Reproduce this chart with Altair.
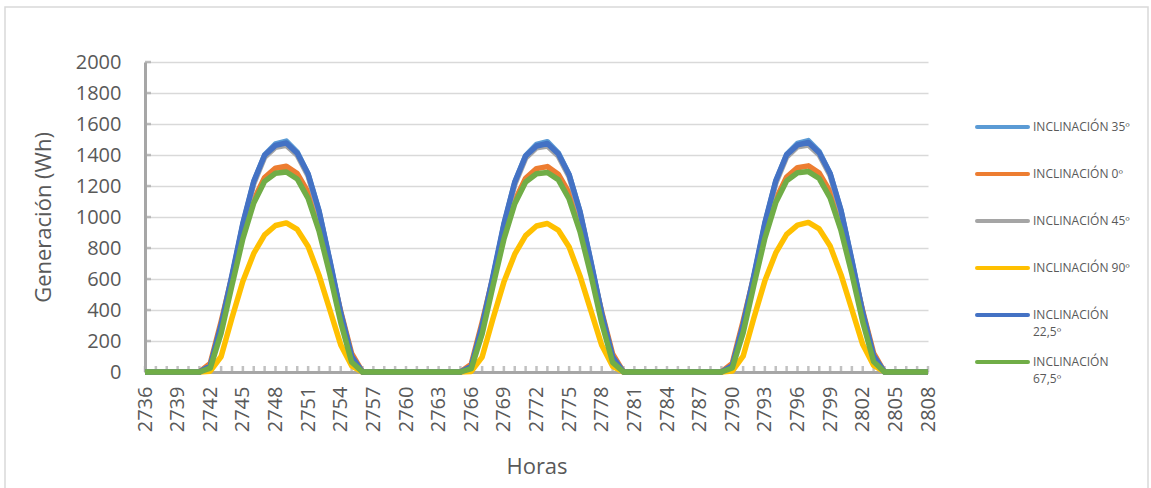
import altair as alt
import pandas as pd

# Hourly axis (category labels every 3 hours)
horas = list(range(2736, 2809))
ticks_x = [2736, 2739, 2742, 2745, 2748, 2751, 2754, 2757, 2760, 2763, 2766, 2769,
           2772, 2775, 2778, 2781, 2784, 2787, 2790, 2793, 2796, 2799, 2802, 2805, 2808]
ticks_y = [0, 200, 400, 600, 800, 1000, 1200, 1400, 1600, 1800, 2000]

series = ["INCLINACIÓN 35º", "INCLINACIÓN 0º", "INCLINACIÓN 45º",
          "INCLINACIÓN 90º", "INCLINACIÓN 22,5º", "INCLINACIÓN 67,5º"]
etiquetas = ["INCLINACIÓN 35º", "INCLINACIÓN 0º", "INCLINACIÓN 45º",
             "INCLINACIÓN 90º", "INCLINACIÓN\n22,5º", "INCLINACIÓN\n67,5º"]
colores = ["#5B9BD5", "#ED7D31", "#A5A5A5", "#FFC000", "#4472C4", "#70AD47"]

# Hourly generation (Wh), hours 2736..2808
inclinacion_35 = [
    0, 0, 0, 0, 0, 0,
    30, 292, 612, 952, 1226, 1400, 1472, 1490, 1418, 1276, 1036, 712, 376, 96,
    0, 0, 0, 0, 0, 0, 0, 0, 0, 0,
    27, 288, 608, 948, 1222, 1396, 1468, 1486, 1414, 1272, 1032, 708, 372, 93,
    0, 0, 0, 0, 0, 0, 0, 0, 0, 0,
    31, 294, 615, 955, 1229, 1403, 1475, 1493, 1421, 1279, 1039, 715, 378, 98,
    0, 0, 0, 0, 0,
]
inclinacion_0 = [
    0, 0, 0, 0, 0, 0,
    55, 325, 615, 880, 1110, 1255, 1315, 1328, 1280, 1160, 955, 685, 390, 120,
    0, 0, 0, 0, 0, 0, 0, 0, 0, 0,
    50, 320, 610, 875, 1105, 1250, 1312, 1325, 1276, 1155, 950, 680, 386, 116,
    0, 0, 0, 0, 0, 0, 0, 0, 0, 0,
    56, 328, 618, 884, 1114, 1258, 1318, 1330, 1283, 1163, 958, 688, 392, 122,
    0, 0, 0, 0, 0,
]
inclinacion_45 = [
    0, 0, 0, 0, 0, 0,
    35, 290, 610, 945, 1215, 1385, 1450, 1462, 1398, 1265, 1028, 705, 368, 92,
    0, 0, 0, 0, 0, 0, 0, 0, 0, 0,
    31, 286, 606, 940, 1210, 1380, 1446, 1458, 1394, 1260, 1024, 700, 364, 88,
    0, 0, 0, 0, 0, 0, 0, 0, 0, 0,
    36, 292, 612, 948, 1218, 1388, 1453, 1465, 1401, 1268, 1031, 708, 370, 94,
    0, 0, 0, 0, 0,
]
inclinacion_90 = [
    0, 0, 0, 0, 0, 0,
    5, 100, 350, 585, 765, 885, 945, 962, 920, 810, 625, 400, 175, 40,
    0, 0, 0, 0, 0, 0, 0, 0, 0, 0,
    4, 96, 345, 580, 760, 880, 942, 958, 916, 806, 620, 396, 172, 37,
    0, 0, 0, 0, 0, 0, 0, 0, 0, 0,
    6, 102, 352, 588, 768, 888, 948, 965, 923, 813, 628, 403, 177, 42,
    0, 0, 0, 0, 0,
]
inclinacion_22_5 = [
    0, 0, 0, 0, 0, 0,
    40, 305, 625, 960, 1230, 1398, 1462, 1478, 1412, 1278, 1040, 718, 382, 102,
    0, 0, 0, 0, 0, 0, 0, 0, 0, 0,
    36, 300, 620, 955, 1225, 1393, 1458, 1474, 1408, 1273, 1035, 713, 378, 98,
    0, 0, 0, 0, 0, 0, 0, 0, 0, 0,
    41, 307, 627, 963, 1233, 1401, 1465, 1481, 1415, 1281, 1043, 721, 384, 104,
    0, 0, 0, 0, 0,
]
inclinacion_67_5 = [
    0, 0, 0, 0, 0, 0,
    25, 250, 560, 860, 1090, 1230, 1282, 1290, 1245, 1120, 910, 630, 320, 65,
    0, 0, 0, 0, 0, 0, 0, 0, 0, 0,
    22, 246, 556, 856, 1086, 1226, 1279, 1287, 1241, 1116, 906, 626, 316, 62,
    0, 0, 0, 0, 0, 0, 0, 0, 0, 0,
    26, 252, 563, 863, 1093, 1233, 1285, 1293, 1248, 1123, 913, 633, 323, 67,
    0, 0, 0, 0, 0,
]

valores = [inclinacion_35, inclinacion_0, inclinacion_45,
           inclinacion_90, inclinacion_22_5, inclinacion_67_5]

filas = []
for nombre, vals in zip(series, valores):
    for h, v in zip(horas, vals):
        filas.append({"hora": h, "gen": v, "serie": nombre})
df = pd.DataFrame(filas)

FONT = "Open Sans"
GRIS_TXT = "#595959"
GRIS_EJE = "#A6A6A6"

x_enc = alt.X(
    "hora:Q",
    scale=alt.Scale(domain=[2736, 2808], nice=False, zero=False),
    axis=alt.Axis(values=ticks_x, tickCount=len(ticks_x), format="d", labelAngle=-90,
                  labelPadding=14, labelOverlap=False, labelFlush=False, labelBound=False,
                  ticks=False, grid=False, domainColor=GRIS_EJE, domainWidth=3,
                  titlePadding=25, labelFontSize=20, titleFontSize=22),
    title="Horas",
)
y_enc = alt.Y(
    "gen:Q",
    scale=alt.Scale(domain=[0, 2000], nice=False),
    axis=alt.Axis(values=ticks_y, tickCount=len(ticks_y), format="d", ticks=False,
                  labelPadding=24, labelOverlap=False, labelFlush=False, labelBound=False,
                  grid=True, gridColor="#D9D9D9", gridWidth=1.5, domainColor=GRIS_EJE,
                  domainWidth=3, titlePadding=20, labelFontSize=20, titleFontSize=22),
    title="Generación (Wh)",
)
color_enc = alt.Color("serie:N", scale=alt.Scale(domain=series, range=colores), legend=None)

# Inward tick marks on both axes
ticks_h = alt.Chart(pd.DataFrame({"hora": horas})).mark_tick(
    orient="vertical", size=6, thickness=2.5, color=GRIS_EJE, yOffset=-3
).encode(x=x_enc, y=alt.datum(0))
ticks_v = alt.Chart(pd.DataFrame({"gen": ticks_y})).mark_tick(
    orient="horizontal", size=6, thickness=2.5, color=GRIS_EJE, xOffset=3
).encode(x=alt.datum(2736), y=y_enc)

lineas = [
    alt.Chart(df).transform_filter(alt.datum.serie == s).mark_line(
        strokeWidth=5.5, strokeJoin="round"
    ).encode(x=x_enc, y=y_enc, color=color_enc)
    for s in series
]

principal = alt.layer(ticks_h, ticks_v, *lineas)

# Legend drawn at the right of the plot
df_ley = pd.DataFrame({"serie": series, "etiqueta": etiquetas})
y_ley = alt.Y("serie:N", scale=alt.Scale(type="point", domain=series, range=[65, 300], padding=0), axis=None)
ley_lineas = alt.Chart(df_ley).mark_rule(strokeWidth=4, strokeCap="round").encode(
    x=alt.value(832), x2=alt.value(883), y=y_ley, color=color_enc
)
ley_textos = alt.Chart(df_ley).mark_text(
    align="left", baseline="line-top", dy=-8, lineBreak="\n", lineHeight=17,
    fontSize=12, font=FONT, color=GRIS_TXT
).encode(x=alt.value(888), y=y_ley, text="etiqueta:N")

marco = alt.Chart(pd.DataFrame({"a": [0]})).mark_rect(
    fillOpacity=0, stroke="#D9D9D9", strokeWidth=1.5
).encode(x=alt.value(-140), x2=alt.value(1003), y=alt.value(-55), y2=alt.value(440))

chart = alt.layer(marco, principal, ley_lineas, ley_textos).resolve_scale(
    y="independent"
).properties(
    width=783, height=310,
    padding={"left": 145, "top": 62, "right": 223, "bottom": 116},
    autosize=alt.AutoSizeParams(type="none"),
).configure_view(stroke=None).configure_axis(
    labelFont=FONT, titleFont=FONT, labelColor=GRIS_TXT, titleColor=GRIS_TXT,
    titleFontWeight="normal", labelOverlap=False,
)

chart.save("out.html", embed_options={"renderer": "svg", "actions": False})
